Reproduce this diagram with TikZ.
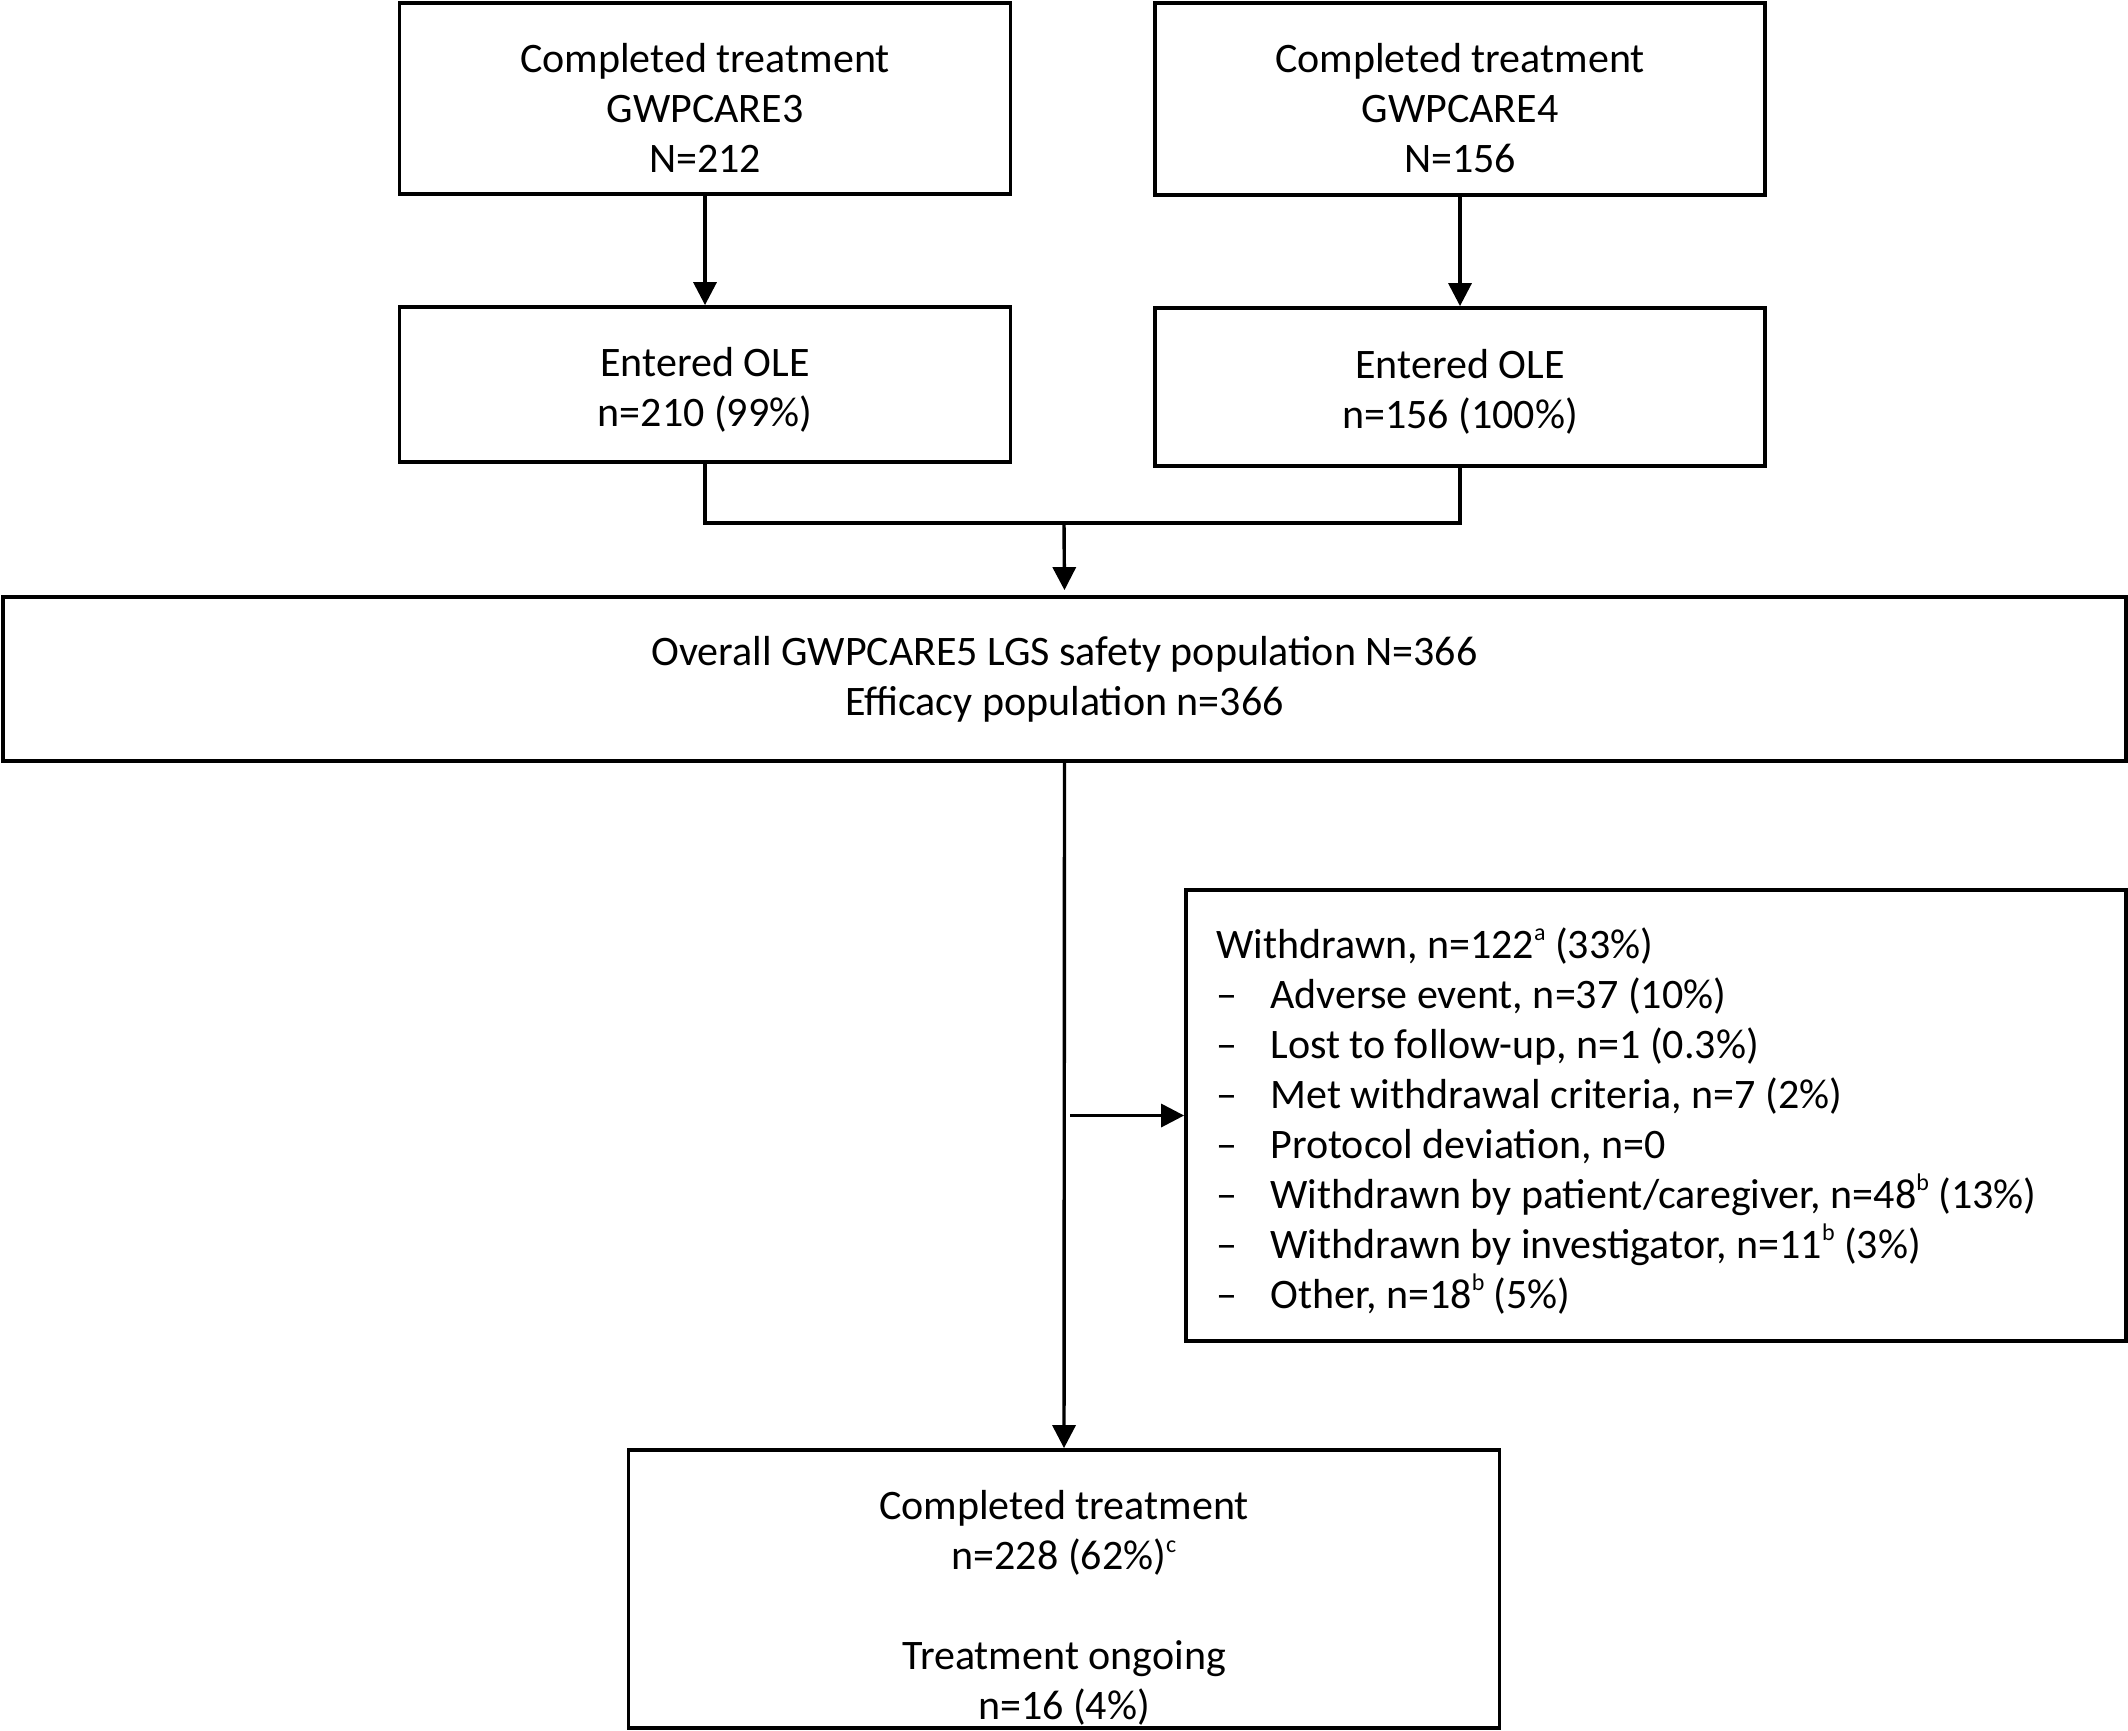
\documentclass[tikz,border=0pt]{standalone}
\usepackage{fontspec}
\setmainfont{Carlito}
\usetikzlibrary{arrows.meta}
\newcommand{\supx}[1]{\raisebox{0.42em}{\fontsize{12pt}{12pt}\selectfont #1}}
\begin{document}
\begin{tikzpicture}[x=0.5pt,y=-0.5pt,
  box/.style={draw=black,line width=1.9pt,rectangle,inner sep=0pt,align=center,
    font=\fontsize{21pt}{25pt}\selectfont},
  txt/.style={inner sep=0pt,font=\fontsize{21pt}{25pt}\selectfont},
  conn/.style={line width=1.7pt},
  arr/.style={conn,-{Triangle[length=11.5pt,width=11.5pt]}}
]
\useasboundingbox (0,0) rectangle (2128,1730);
% top boxes
\node[box,minimum width=305.5pt,minimum height=95.5pt] (b1) at (705,98.5) {};
\node[txt,align=center] (b1t) at (705,108) {Completed treatment\\GWPCARE3\\N=212};
\node[box,minimum width=305pt,minimum height=96pt] (b2) at (1460,99) {};
\node[txt,align=center] (b2t) at (1460,108.5) {Completed treatment\\GWPCARE4\\N=156};
\node[box,minimum width=305.5pt,minimum height=77.5pt] (b3) at (705,384.5) {};
\node[txt,align=center] (b3t) at (705,390) {Entered OLE\\n=210 (99\%)};
\node[box,minimum width=305pt,minimum height=79pt] (b4) at (1460,387) {};
\node[txt,align=center] (b4t) at (1460,392) {Entered OLE\\n=156 (100\%)};
% overall
\node[box,minimum width=1061.5pt,minimum height=82pt] (big) at (1064.5,679)
  {Overall GWPCARE5 LGS safety population N=366\\Efficacy population n=366};
% withdrawn
\node[box,minimum width=470pt,minimum height=225.5pt] (wd) at (1656,1115.5) {};
\node[txt,align=left,anchor=west] (wdt) at (1216,1121) {%
  Withdrawn, n=122\supx{a} (33\%)\\
  \makebox[27pt][l]{–}Adverse event, n=37 (10\%)\\
  \makebox[27pt][l]{–}Lost to follow-up, n=1 (0.3\%)\\
  \makebox[27pt][l]{–}Met withdrawal criteria, n=7 (2\%)\\
  \makebox[27pt][l]{–}Protocol deviation, n=0\\
  \makebox[27pt][l]{–}Withdrawn by patient/caregiver, n=48\supx{b} (13\%)\\
  \makebox[27pt][l]{–}Withdrawn by investigator, n=11\supx{b} (3\%)\\
  \makebox[27pt][l]{–}Other, n=18\supx{b} (5\%)};
% bottom
\node[box,minimum width=435.5pt,minimum height=139pt] (done) at (1064,1589) {};
\node[txt,align=center] (donet) at (1064,1608)
  {Completed treatment\\n=228 (62\%)\supx{c}\\[25pt]Treatment ongoing\\n=16 (4\%)};
% connectors
\draw[arr] (b1.south) -- (b3.north);
\draw[arr] (b2.south) -- (b4.north);
\coordinate (m) at (1064,523);
\draw[conn] (b3.south) |- (m);
\draw[conn] (b4.south) |- (m);
\draw[arr,shorten >=2.5pt] (m) -- (big.north);
\draw[arr] (big.south) -- (done.north);
\coordinate (s) at (1070,1115.5);
\draw[arr] (s) -- (wd.west);
\end{tikzpicture}
\end{document}
